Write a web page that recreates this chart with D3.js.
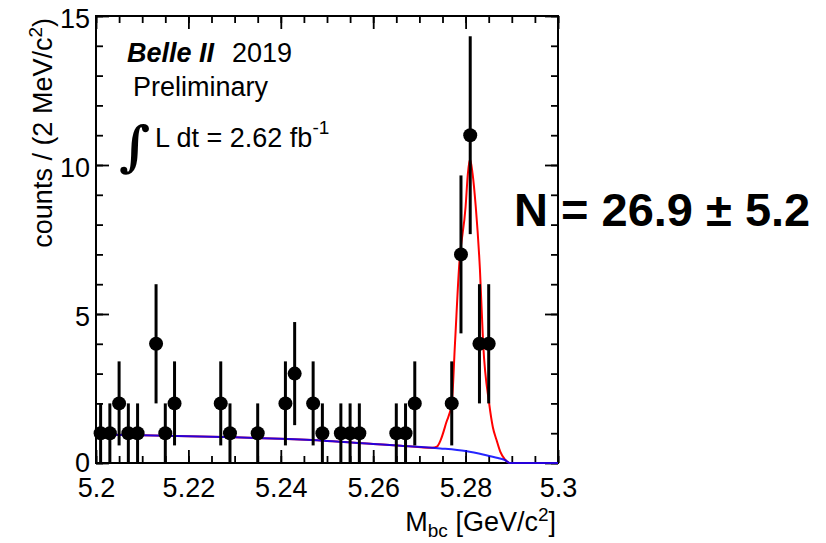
<!DOCTYPE html>
<meta charset="utf-8">

<!-- Load d3.js -->
<script src="https://d3js.org/d3.v7.min.js"></script>

<style>
  body { margin: 0; background: #fff; }
  text { font-family: "Liberation Sans", Arial, Helvetica, sans-serif; }
</style>

<!-- Create a div where the graph will take place -->
<div id="my_dataviz"></div>

<script>

// histogram bins (GeV/c^2), counts and their errors
var binCenters = [5.201, 5.203, 5.205, 5.207, 5.209, 5.213, 5.215, 5.217, 5.227, 5.229,
                  5.235, 5.241, 5.243, 5.247, 5.249, 5.253, 5.255, 5.257, 5.265, 5.267,
                  5.269, 5.277, 5.279, 5.281, 5.283, 5.285];
var counts = [1, 1, 2, 1, 1, 4, 1, 2, 2, 1,
              1, 2, 3, 2, 1, 1, 1, 1, 1, 1,
              2, 2, 7, 11, 4, 4];
var errors = [1, 1, 1.41, 1, 1, 2, 1, 1.41, 1.41, 1,
              1, 1.41, 1.73, 1.41, 1, 1, 1, 1, 1, 1,
              1.41, 1.41, 2.65, 3.32, 2, 2];

// background fit (blue)
var bkgX = [5.200, 5.210, 5.220, 5.230, 5.240, 5.250, 5.260, 5.266, 5.2745, 5.280, 5.284, 5.287, 5.2885, 5.2896, 5.300];
var bkgY = [0.96, 0.935, 0.90, 0.86, 0.81, 0.74, 0.64, 0.58, 0.49, 0.40, 0.28, 0.17, 0.10, 0.0, 0.0];

// total fit (red)
var totX = [5.200, 5.210, 5.220, 5.230, 5.240, 5.250, 5.260, 5.266, 5.2728, 5.2738, 5.2746, 5.2758, 5.2770,
            5.2777, 5.2786, 5.2800, 5.2805, 5.28095, 5.2815, 5.2822, 5.2831, 5.2838, 5.2851, 5.2859,
            5.2867, 5.2875, 5.2885, 5.2896, 5.300];
var totY = [0.96, 0.935, 0.90, 0.86, 0.81, 0.74, 0.64, 0.58, 0.51, 0.55, 0.77, 1.35, 2.0,
            4.0, 6.6, 8.6, 9.72, 10.2, 9.72, 8.6, 6.5, 4.0, 2.0, 1.2,
            0.77, 0.38, 0.12, 0.0, 0.0];

var xTickValues = [5.2, 5.22, 5.24, 5.26, 5.28, 5.3];
var xTickLabels = ["5.2", "5.22", "5.24", "5.26", "5.28", "5.3"];
var yTickValues = [0, 5, 10, 15];
var yTickLabels = ["0", "5", "10", "15"];

// set the dimensions and margins of the graph
var margin = {top: 16, right: 268, bottom: 80, left: 96},
    width = 826 - margin.left - margin.right,
    height = 543 - margin.top - margin.bottom;

var svgRoot = d3.select("#my_dataviz")
  .append("svg")
    .attr("width", 826)
    .attr("height", 543);

svgRoot.append("rect").attr("width", 826).attr("height", 543).attr("fill", "#fff");

var svg = svgRoot.append("g")
    .attr("transform", "translate(" + margin.left + "," + margin.top + ")");

var x = d3.scaleLinear().domain([5.2, 5.3]).range([0, width]);
var y = d3.scaleLinear().domain([0, 15]).range([height, 0]);

var majorLen = 13, minorLen = 7;
var xMinor = d3.range(5.2, 5.3001, 0.005);
var yMinor = d3.range(0, 15.001, 1);

function styleAxis(g) {
  g.select(".domain").remove();
  g.selectAll("line").attr("stroke", "#000").attr("stroke-width", 1.8);
  g.selectAll("text").attr("fill", "#000").style("font-size", "27px");
}

// bottom axis (ticks inside)
svg.append("g")
  .attr("transform", "translate(0," + height + ")")
  .call(d3.axisBottom(x).tickValues(xMinor).tickSize(-minorLen).tickFormat(""))
  .call(styleAxis);
svg.append("g")
  .attr("transform", "translate(0," + height + ")")
  .call(d3.axisBottom(x).tickValues(xTickValues).tickSize(-majorLen).tickPadding(15)
        .tickFormat(function(d, i) { return xTickLabels[i]; }))
  .call(styleAxis);

// top axis (mirror)
svg.append("g")
  .call(d3.axisTop(x).tickValues(xMinor).tickSize(-minorLen).tickFormat(""))
  .call(styleAxis);
svg.append("g")
  .call(d3.axisTop(x).tickValues(xTickValues).tickSize(-majorLen).tickFormat(""))
  .call(styleAxis);

// left axis
svg.append("g")
  .call(d3.axisLeft(y).tickValues(yMinor).tickSize(-minorLen).tickFormat(""))
  .call(styleAxis);
var yAx = svg.append("g")
  .call(d3.axisLeft(y).tickValues(yTickValues).tickSize(-majorLen).tickPadding(6)
        .tickFormat(function(d, i) { return yTickLabels[i]; }))
  .call(styleAxis);
yAx.selectAll("text").attr("dy", function(d) { return d === 0 ? "0.3em" : "0.42em"; });

// right axis (mirror)
svg.append("g")
  .attr("transform", "translate(" + width + ",0)")
  .call(d3.axisRight(y).tickValues(yMinor).tickSize(-minorLen).tickFormat(""))
  .call(styleAxis);
svg.append("g")
  .attr("transform", "translate(" + width + ",0)")
  .call(d3.axisRight(y).tickValues(yTickValues).tickSize(-majorLen).tickFormat(""))
  .call(styleAxis);

// frame
svg.append("rect")
  .attr("width", width)
  .attr("height", height)
  .attr("fill", "none")
  .attr("stroke", "#000")
  .attr("stroke-width", 2);

// fit curves: total (red) underneath, background (blue) on top
var lineGen = d3.line()
  .x(function(d) { return x(d[0]); })
  .y(function(d) { return y(d[1]); })
  .curve(d3.curveMonotoneX);

svg.append("path")
  .datum(totX.map(function(v, i) { return [v, totY[i]]; }))
  .attr("d", lineGen)
  .attr("fill", "none")
  .attr("stroke", "#ff0000")
  .attr("stroke-width", 2);

svg.append("path")
  .datum(bkgX.map(function(v, i) { return [v, bkgY[i]]; }))
  .attr("d", lineGen)
  .attr("fill", "none")
  .attr("stroke", "#0000ff")
  .attr("stroke-width", 2)
  .attr("opacity", 0.85);

// data points with error bars
var pts = binCenters.map(function(c, i) { return {c: c, n: counts[i], e: errors[i]}; });

svg.selectAll(".ebar")
  .data(pts)
  .enter()
  .append("line")
    .attr("x1", function(d) { return x(d.c); })
    .attr("x2", function(d) { return x(d.c); })
    .attr("y1", function(d) { return y(d.n + d.e); })
    .attr("y2", function(d) { return y(Math.max(0, d.n - d.e)); })
    .attr("stroke", "#000")
    .attr("stroke-width", 3);

svg.selectAll(".dot")
  .data(pts)
  .enter()
  .append("circle")
    .attr("cx", function(d) { return x(d.c); })
    .attr("cy", function(d) { return y(d.n); })
    .attr("r", 7)
    .attr("fill", "#000");

// axis titles
var xt = svgRoot.append("text")
  .attr("x", 556)
  .attr("y", 531)
  .attr("text-anchor", "end")
  .style("font-size", "27px");
xt.append("tspan").text("M");
xt.append("tspan").attr("dy", 6).style("font-size", "19px").text("bc");
xt.append("tspan").attr("dy", -6).text(" [GeV/c");
xt.append("tspan").attr("dy", -10).style("font-size", "19px").text("2");
xt.append("tspan").attr("dy", 10).text("]");

var yt = svgRoot.append("text")
  .attr("transform", "translate(52,18) rotate(-90)")
  .attr("text-anchor", "end")
  .style("font-size", "27px");
yt.append("tspan").text("counts / (2 MeV/c");
yt.append("tspan").attr("dy", -10).style("font-size", "19px").text("2");
yt.append("tspan").attr("dy", 10).text(")");

// labels inside the frame
svgRoot.append("text")
  .attr("x", 127).attr("y", 62)
  .style("font-size", "27px").style("font-weight", "bold").style("font-style", "italic")
  .text("Belle II");
svgRoot.append("text")
  .attr("x", 232).attr("y", 62)
  .style("font-size", "27px")
  .text("2019");
svgRoot.append("text")
  .attr("x", 133).attr("y", 96)
  .style("font-size", "27px")
  .text("Preliminary");
svgRoot.append("text")
  .attr("x", 119).attr("y", 165)
  .style("font-family", "DejaVu Serif")
  .style("font-size", "54px")
  .style("font-style", "italic")
  .style("font-weight", "bold")
  .text("\u222B");
var lum = svgRoot.append("text")
  .attr("x", 155).attr("y", 147)
  .style("font-size", "27px");
lum.append("tspan").text("L dt = 2.62 fb");
lum.append("tspan").attr("dy", -13).style("font-size", "19px").text("-1");

svgRoot.append("text")
  .attr("x", 514).attr("y", 226)
  .style("font-size", "47px")
  .style("font-weight", "bold")
  .text("N = 26.9 \u00B1 5.2");

</script>
